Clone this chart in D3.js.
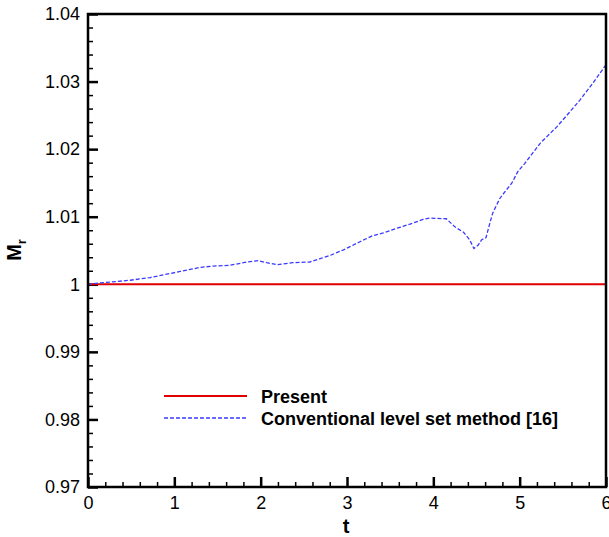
<!DOCTYPE html>
<html>
<head>
<meta charset="utf-8">
<script src="https://cdn.jsdelivr.net/npm/d3@7"></script>
<style>
  html, body { margin: 0; padding: 0; background: #fff; }
  svg { display: block; font-family: "Liberation Sans", Arial, sans-serif; }
</style>
</head>
<body>
<svg id="chart" width="609" height="537"></svg>
<script>
// ---- data ----
const tConventional = [0, 0.14, 0.49, 0.72, 1.07, 1.30, 1.45, 1.64, 1.84, 1.97, 2.07, 2.19, 2.37, 2.57, 2.69, 2.81, 2.96, 3.15, 3.30, 3.42, 3.58, 3.73, 3.88, 3.96, 4.15, 4.25, 4.35, 4.42, 4.47, 4.52, 4.56, 4.61, 4.66, 4.69, 4.77, 4.83, 4.91, 4.98, 5.06, 5.18, 5.24, 5.43, 5.56, 5.70, 5.85, 6.00];
const mConventional = [1.0000, 1.0002, 1.0006, 1.0010, 1.0019, 1.0025, 1.0027, 1.0028, 1.0033, 1.0035, 1.0032, 1.0029, 1.0032, 1.0033, 1.0038, 1.0043, 1.0051, 1.0063, 1.0072, 1.0076, 1.0083, 1.0089, 1.0096, 1.0098, 1.0097, 1.0085, 1.0077, 1.0066, 1.0053, 1.0058, 1.0066, 1.0069, 1.0093, 1.0106, 1.0127, 1.0137, 1.0150, 1.0167, 1.0179, 1.0199, 1.0209, 1.0233, 1.0252, 1.0273, 1.0298, 1.0325];
const tPresent = [0, 6];
const mPresent = [1, 1];
const xTicks = [0, 1, 2, 3, 4, 5, 6];
const yTicks = [0.97, 0.98, 0.99, 1.00, 1.01, 1.02, 1.03, 1.04];
const yTickLabels = ["0.97", "0.98", "0.99", "1", "1.01", "1.02", "1.03", "1.04"];
const seriesNames = ["Present", "Conventional level set method [16]"];
const seriesColors = ["#e00000", "#3a3aff"];

// ---- layout ----
const L = 88, R = 606, T = 14, B = 487;
const svg = d3.select("#chart");
const x = d3.scaleLinear().domain([0, 6]).range([L, R]);
const y = d3.scaleLinear().domain([0.97, 1.04]).range([B, T]);

const xMinor = d3.range(0, 6.0001, 0.2).filter(v => Math.abs(v - Math.round(v)) > 1e-6);
const yMinor = d3.range(0, 36).map(i => 0.97 + i * 0.002).filter(v => Math.abs(v * 100 - Math.round(v * 100)) > 1e-6);

// minor ticks
svg.append("g").attr("transform", `translate(0,${B})`)
  .call(d3.axisBottom(x).tickValues(xMinor).tickSizeInner(-5).tickSizeOuter(0).tickFormat(""))
  .call(g => g.select(".domain").remove())
  .call(g => g.selectAll("line").attr("stroke", "#000").attr("stroke-width", 1.5));
svg.append("g").attr("transform", `translate(${L},0)`)
  .call(d3.axisLeft(y).tickValues(yMinor).tickSizeInner(-5).tickSizeOuter(0).tickFormat(""))
  .call(g => g.select(".domain").remove())
  .call(g => g.selectAll("line").attr("stroke", "#000").attr("stroke-width", 1.5));

// major ticks
svg.append("g").attr("transform", `translate(0,${B})`)
  .call(d3.axisBottom(x).tickValues(xTicks).tickSizeInner(-10).tickSizeOuter(0).tickPadding(9).tickFormat(d3.format("d")))
  .call(g => g.select(".domain").remove())
  .call(g => g.selectAll("line").attr("stroke", "#000").attr("stroke-width", 2.5))
  .call(g => g.selectAll("text").attr("fill", "#000").attr("font-size", 18).attr("font-family", "Liberation Sans, Arial, sans-serif"));
svg.append("g").attr("transform", `translate(${L},0)`)
  .call(d3.axisLeft(y).tickValues(yTicks).tickSizeInner(-10).tickSizeOuter(0).tickPadding(8).tickFormat((d, i) => yTickLabels[i]))
  .call(g => g.select(".domain").remove())
  .call(g => g.selectAll("line").attr("stroke", "#000").attr("stroke-width", 2.5))
  .call(g => g.selectAll("text").attr("fill", "#000").attr("font-size", 18).attr("font-family", "Liberation Sans, Arial, sans-serif"));

// lines
const line = d3.line().x(d => x(d[0])).y(d => y(d[1]));
svg.append("path")
  .datum(d3.zip(tPresent, mPresent))
  .attr("d", line).attr("fill", "none")
  .attr("stroke", seriesColors[0]).attr("stroke-width", 2);
svg.append("path")
  .datum(d3.zip(tConventional, mConventional))
  .attr("d", line).attr("fill", "none")
  .attr("stroke", seriesColors[1]).attr("stroke-width", 1.3)
  .attr("stroke-dasharray", "4,2");

// frame
svg.append("rect").attr("x", L).attr("y", T).attr("width", R - L).attr("height", B - T)
  .attr("fill", "none").attr("stroke", "#000").attr("stroke-width", 2.5);

// axis titles
svg.append("text").attr("x", 346).attr("y", 533)
  .attr("text-anchor", "middle").attr("font-size", 20).attr("font-weight", "bold").text("t");
const yt = svg.append("text").attr("transform", "translate(21,250) rotate(-90)")
  .attr("text-anchor", "middle").attr("font-size", 20).attr("font-weight", "bold");
yt.append("tspan").text("M");
yt.append("tspan").attr("font-size", 13).attr("dy", 5).text("r");

// legend
const legY = [396, 418];
seriesNames.forEach((name, i) => {
  svg.append("line").attr("x1", 164).attr("x2", 247).attr("y1", legY[i]).attr("y2", legY[i])
    .attr("stroke", seriesColors[i]).attr("stroke-width", i === 0 ? 2 : 1.3)
    .attr("stroke-dasharray", i === 0 ? null : "4,2");
  svg.append("text").attr("x", 261).attr("y", legY[i] + 6.5)
    .attr("font-size", 18).attr("font-weight", "bold").text(name);
});
</script>
</body>
</html>
